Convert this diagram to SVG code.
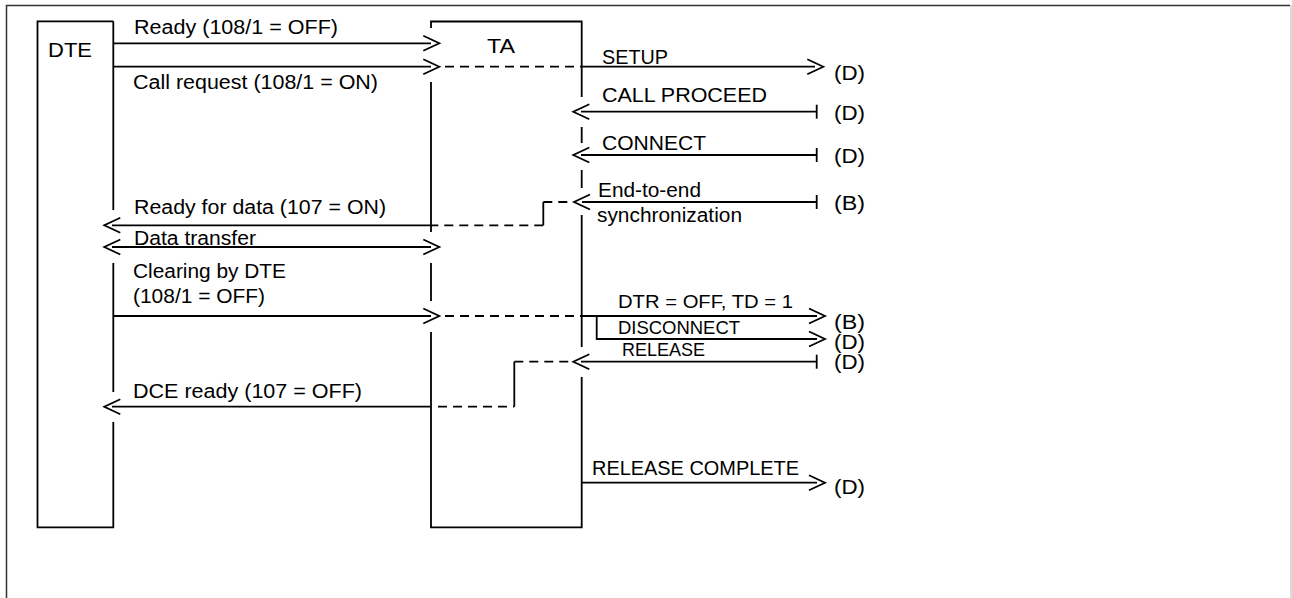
<svg xmlns="http://www.w3.org/2000/svg" width="1292" height="598" viewBox="0 0 1292 598">
<style>
.ln{fill:none;stroke:#000;stroke-width:1.8}
.ds{fill:none;stroke:#000;stroke-width:1.8;stroke-dasharray:9 6}
.t{font-family:"Liberation Sans",Arial,sans-serif;font-size:20px;fill:#000}
.s{font-size:17.5px}
</style>
<defs>
<path id="cr" class="ln" d="M-16,-7.5 L0,0 L-16,7.5"/>
<path id="cl" class="ln" d="M16,-7.5 L0,0 L16,7.5"/>
<path id="tk" class="ln" d="M0,-7 V7"/>
</defs>
<rect width="1292" height="598" fill="#fff"/>
<g id="frame">
<path d="M6.5,598 V5.5 H1290" fill="none" stroke="#333" stroke-width="1.5"/>
<path d="M1291,5 V598" stroke="#cfcfcf" stroke-width="1.5"/>
</g>
<g id="dte">
<path class="ln" d="M113.3,21.3 H37.5 V527.3 H113.3 V422 M113.3,392 V263 M113.3,210 V21.3"/>
<text class="t" x="48" y="57" textLength="44" lengthAdjust="spacingAndGlyphs">DTE</text>
</g>
<g id="ta">
<path class="ln" d="M431,28 V21.5 H581.7 V97 M581.7,127 V143 M581.7,170 V188 M581.7,215 V347 M581.7,377 V527.3 H431 V332 M431,301 V263 M431,232 V82"/>
<text class="t" x="487" y="53" textLength="28" lengthAdjust="spacingAndGlyphs">TA</text>
</g>
<g id="connectors">
<!-- Ready -->
<path class="ln" d="M113.3,43.3 H431"/>
<use href="#cr" x="439.3" y="43.3"/>
<!-- Call request / SETUP -->
<path class="ln" d="M113.3,66.7 H431"/>
<use href="#cr" x="439.3" y="66.7"/>
<path class="ds" d="M445,66.7 H581.7"/>
<path class="ln" d="M581.7,66.7 H815"/>
<use href="#cr" x="823.3" y="66.7"/>
<!-- CALL PROCEED -->
<use href="#cl" x="573.3" y="111.7"/>
<path class="ln" d="M581,111.7 H816.7"/>
<use href="#tk" x="816.7" y="111.7"/>
<!-- CONNECT -->
<use href="#cl" x="573.3" y="155"/>
<path class="ln" d="M581,155 H816.7"/>
<use href="#tk" x="816.7" y="155"/>
<!-- End-to-end synchronization / Ready for data -->
<use href="#cl" x="574" y="202"/>
<path class="ln" d="M582,202 H816.7"/>
<use href="#tk" x="816.7" y="202"/>
<path class="ds" d="M543.3,202 H569"/>
<path class="ln" d="M543.3,202 V225.3"/>
<path class="ds" d="M543.3,225.3 H431"/>
<path class="ln" d="M431,225.3 H112"/>
<use href="#cl" x="104.3" y="225.3"/>
<!-- Data transfer -->
<path class="ln" d="M112,247 H431"/>
<use href="#cl" x="104.3" y="247"/>
<use href="#cr" x="439.3" y="247"/>
<!-- Clearing by DTE / DTR / DISCONNECT -->
<path class="ln" d="M113.3,316 H431"/>
<use href="#cr" x="439.3" y="316"/>
<path class="ds" d="M445,316 H581.7"/>
<path class="ln" d="M581.7,316 H817"/>
<use href="#cr" x="825" y="316"/>
<path class="ln" d="M596.7,316 V339 H817"/>
<use href="#cr" x="825" y="339"/>
<!-- RELEASE / DCE ready -->
<use href="#cl" x="573.3" y="361.7"/>
<path class="ln" d="M581,361.7 H816.7"/>
<use href="#tk" x="816.7" y="361.7"/>
<path class="ds" d="M514.3,361.7 H569"/>
<path class="ln" d="M514.3,361.7 V406.7"/>
<path class="ds" d="M438,406.7 H514.3"/>
<path class="ln" d="M431,406.7 H112"/>
<use href="#cl" x="104.3" y="406.7"/>
<!-- RELEASE COMPLETE -->
<path class="ln" d="M581.7,482.7 H817"/>
<use href="#cr" x="825" y="482.7"/>
</g>
<g id="labels">
<text class="t" x="134" y="34" textLength="204" lengthAdjust="spacingAndGlyphs">Ready (108/1 = OFF)</text>
<text class="t" x="133" y="89" textLength="245" lengthAdjust="spacingAndGlyphs">Call request (108/1 = ON)</text>
<text class="t" x="602" y="64" textLength="66" lengthAdjust="spacingAndGlyphs">SETUP</text>
<text class="t" x="602" y="102" textLength="165" lengthAdjust="spacingAndGlyphs">CALL PROCEED</text>
<text class="t" x="602" y="150" textLength="104" lengthAdjust="spacingAndGlyphs">CONNECT</text>
<text class="t" x="598" y="197" textLength="103" lengthAdjust="spacingAndGlyphs">End-to-end</text>
<text class="t" x="597" y="222" textLength="145" lengthAdjust="spacingAndGlyphs">synchronization</text>
<text class="t" x="134" y="214" textLength="252" lengthAdjust="spacingAndGlyphs">Ready for data (107 = ON)</text>
<text class="t" x="134" y="244.5" textLength="122" lengthAdjust="spacingAndGlyphs">Data transfer</text>
<text class="t" x="133" y="278" textLength="153" lengthAdjust="spacingAndGlyphs">Clearing by DTE</text>
<text class="t" x="133" y="303" textLength="132" lengthAdjust="spacingAndGlyphs">(108/1 = OFF)</text>
<text class="t s" x="618" y="308" textLength="175" lengthAdjust="spacingAndGlyphs">DTR = OFF, TD = 1</text>
<text class="t s" x="618" y="334" textLength="122" lengthAdjust="spacingAndGlyphs">DISCONNECT</text>
<text class="t s" x="622" y="356" textLength="83" lengthAdjust="spacingAndGlyphs">RELEASE</text>
<text class="t" x="133" y="398" textLength="229" lengthAdjust="spacingAndGlyphs">DCE ready (107 = OFF)</text>
<text class="t" x="592" y="475" textLength="207" lengthAdjust="spacingAndGlyphs">RELEASE COMPLETE</text>
<text class="t" x="834" y="80" textLength="31" lengthAdjust="spacingAndGlyphs">(D)</text>
<text class="t" x="834" y="120" textLength="31" lengthAdjust="spacingAndGlyphs">(D)</text>
<text class="t" x="834" y="163" textLength="31" lengthAdjust="spacingAndGlyphs">(D)</text>
<text class="t" x="834" y="210" textLength="31" lengthAdjust="spacingAndGlyphs">(B)</text>
<text class="t" x="834" y="329" textLength="31" lengthAdjust="spacingAndGlyphs">(B)</text>
<text class="t" x="834" y="348.5" textLength="31" lengthAdjust="spacingAndGlyphs">(D)</text>
<text class="t" x="834" y="369" textLength="31" lengthAdjust="spacingAndGlyphs">(D)</text>
<text class="t" x="834" y="494" textLength="31" lengthAdjust="spacingAndGlyphs">(D)</text>
</g>
</svg>
